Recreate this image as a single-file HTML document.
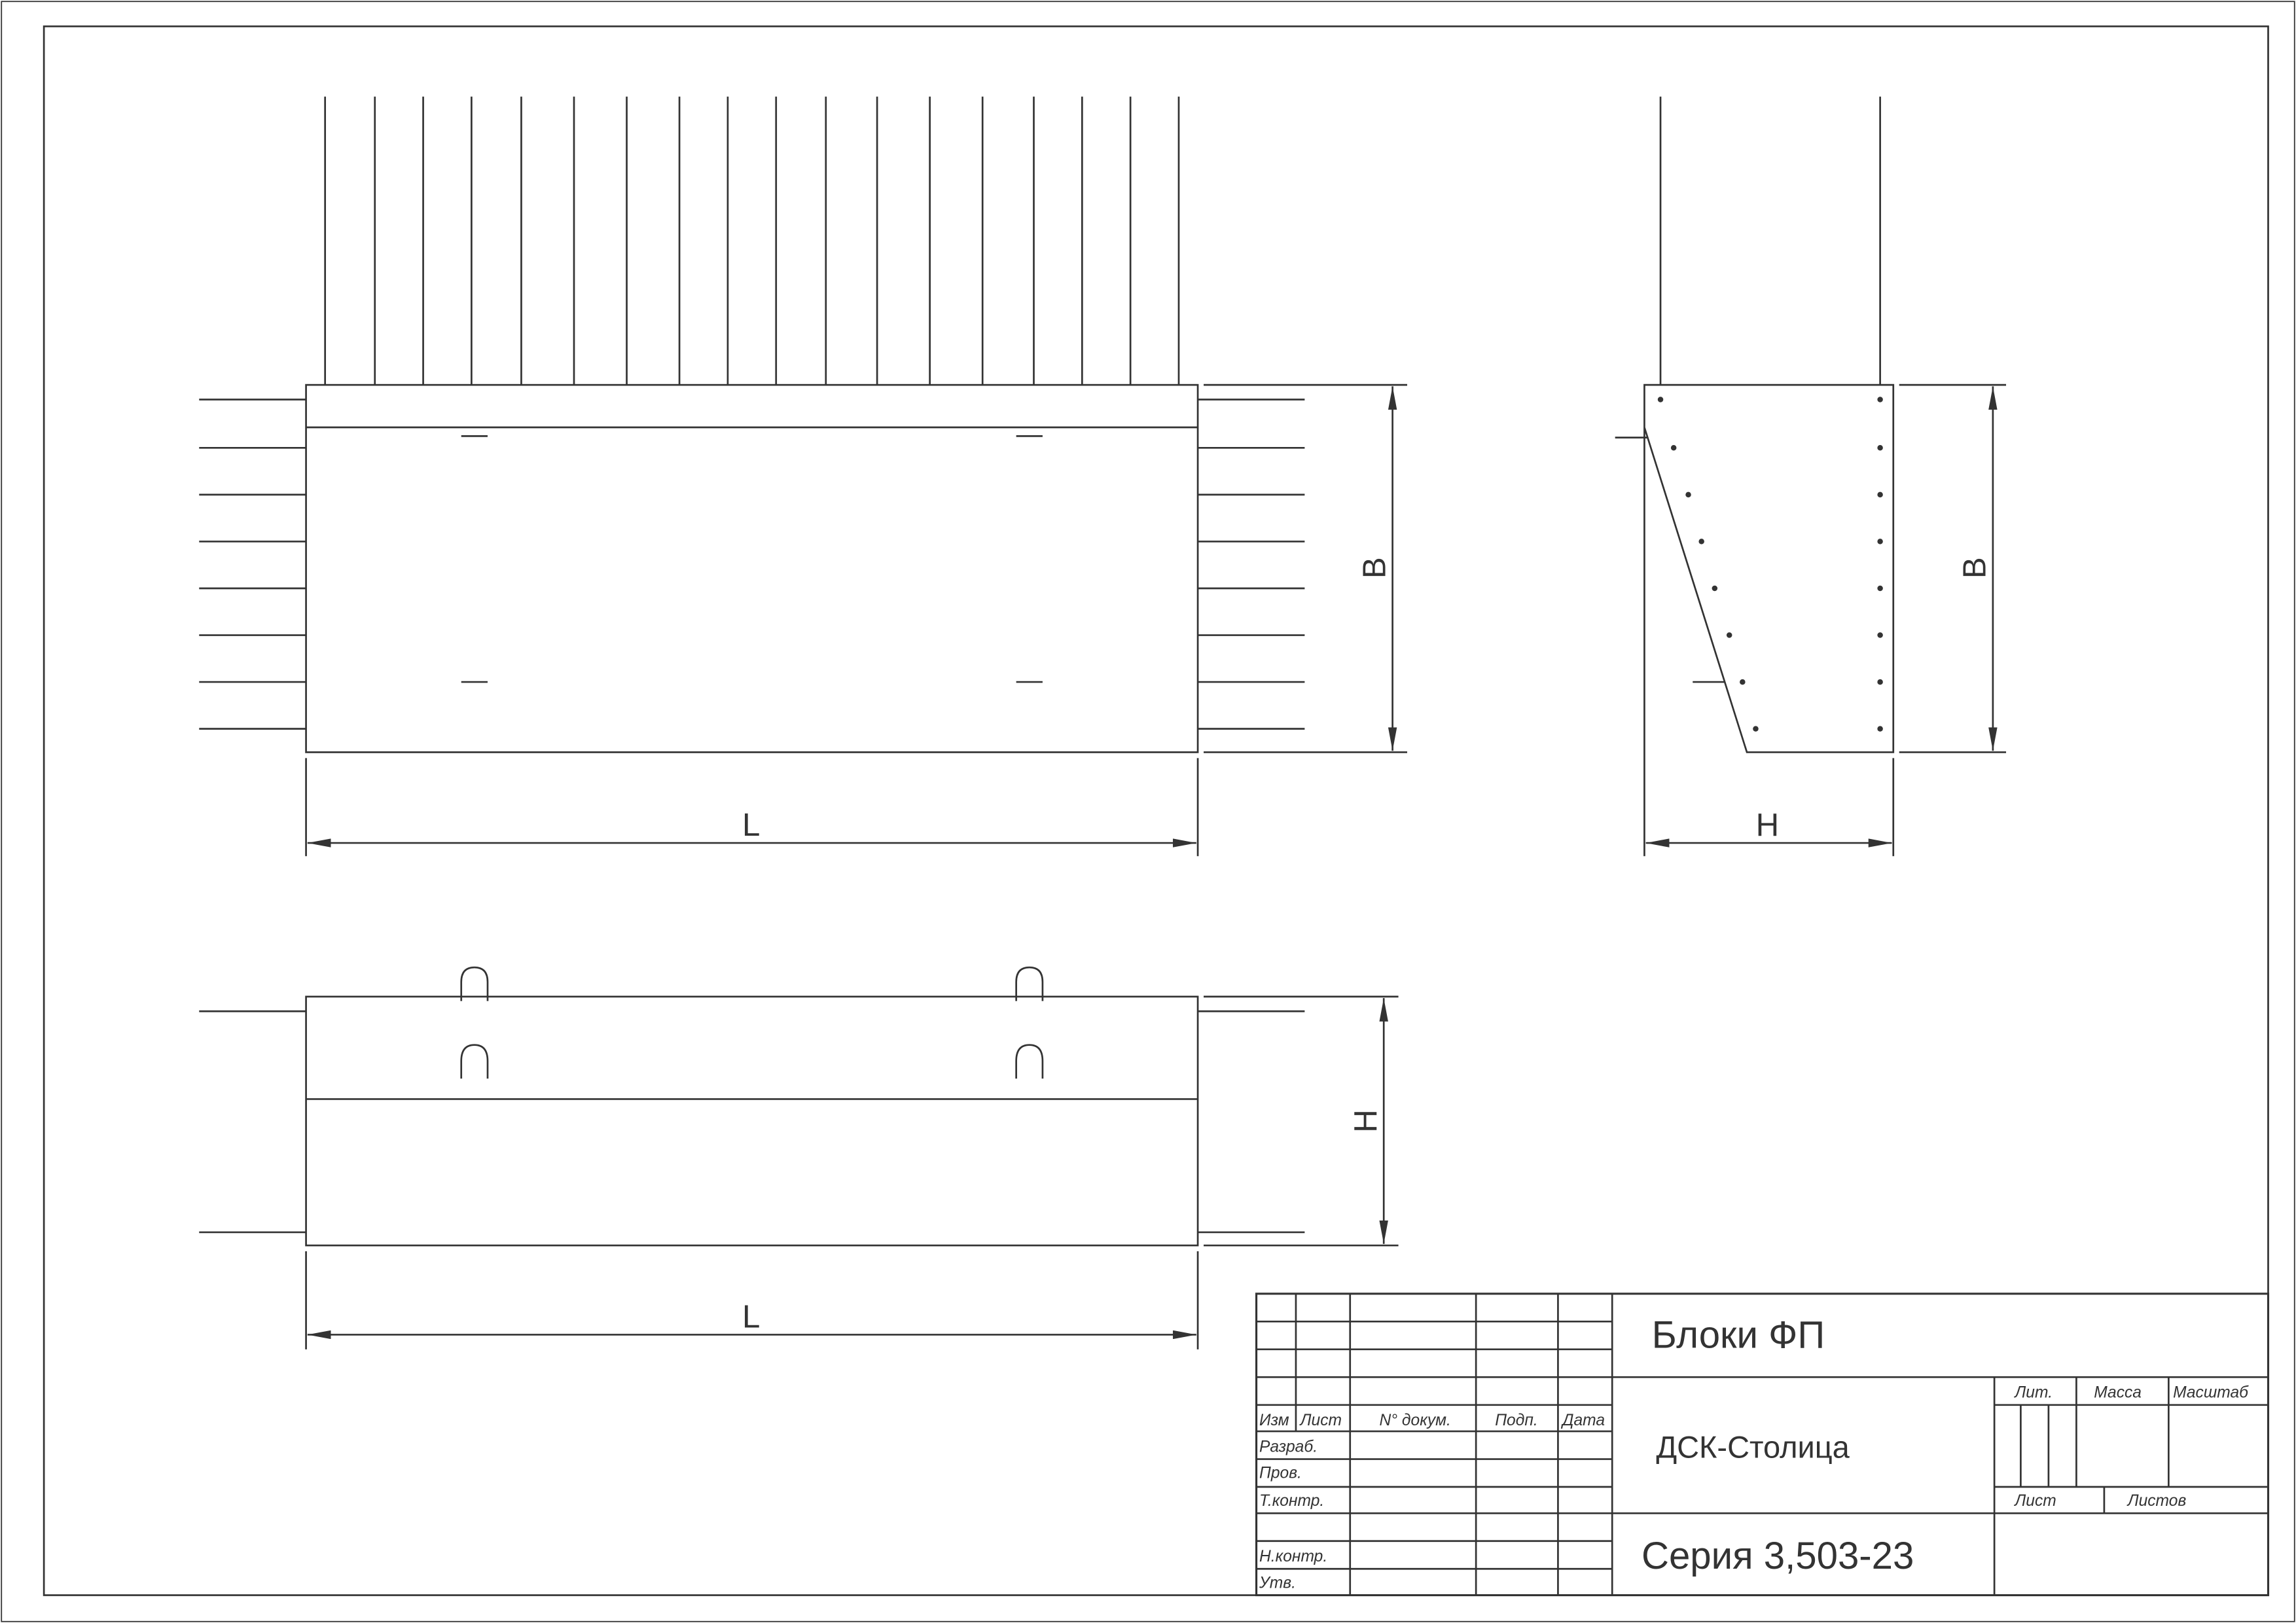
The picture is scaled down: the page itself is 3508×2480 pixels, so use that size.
<!DOCTYPE html>
<html><head><meta charset="utf-8"><style>
html,body{margin:0;padding:0;background:#fff;}
svg{display:block;}
text{font-family:"Liberation Sans",sans-serif;fill:#333;}
.s{font-style:italic;font-size:11px;}
</style></head><body>
<svg width="3508" height="2480" viewBox="0 0 1568 1109" preserveAspectRatio="none" xmlns="http://www.w3.org/2000/svg">
<defs>
<marker id="a" viewBox="0 0 16 6" refX="16" refY="3" markerWidth="16" markerHeight="6" markerUnits="userSpaceOnUse" orient="auto-start-reverse"><path d="M0,0 L16,3 L0,6 z" fill="#333"/></marker>
</defs>
<g stroke="#333" stroke-width="1.2" fill="none">
<rect x="1" y="1" width="1566" height="1107" stroke-width="0.8"/>
<rect x="30" y="18" width="1519" height="1072"/>

<rect x="209" y="263" width="609" height="251"/>
<line x1="209" y1="292" x2="818" y2="292"/>
<path d="M222,66V263 M256,66V263 M289,66V263 M322,66V263 M356,66V263 M392,66V263 M428,66V263 M464,66V263 M497,66V263 M530,66V263 M564,66V263 M599,66V263 M635,66V263 M671,66V263 M706,66V263 M739,66V263 M772,66V263 M805,66V263"/>
<path d="M136,273H209 M136,306H209 M136,338H209 M136,370H209 M136,402H209 M136,434H209 M136,466H209 M136,498H209"/>
<path d="M818,273H891 M818,306H891 M818,338H891 M818,370H891 M818,402H891 M818,434H891 M818,466H891 M818,498H891"/>
<path d="M315,298H333 M694,298H712 M315,466H333 M694,466H712"/>
<path d="M822,263H961 M822,514H961"/>
<line x1="951" y1="264" x2="951" y2="513" marker-start="url(#a)" marker-end="url(#a)"/>
<path d="M209,518V585 M818,518V585"/>
<line x1="210" y1="576" x2="817" y2="576" marker-start="url(#a)" marker-end="url(#a)"/>

<path d="M1123,585V263H1293V514H1193L1123,292"/>
<path d="M1134,66V263 M1284,66V263"/>
<path d="M1103,299H1125 M1156,466H1178"/>
<path d="M1297,263H1370 M1297,514H1370"/>
<line x1="1361" y1="264" x2="1361" y2="513" marker-start="url(#a)" marker-end="url(#a)"/>
<path d="M1293,518V585"/>
<line x1="1124" y1="576" x2="1292" y2="576" marker-start="url(#a)" marker-end="url(#a)"/>

<rect x="209" y="681" width="609" height="170"/>
<line x1="209" y1="751" x2="818" y2="751"/>
<path d="M136,691H209 M136,842H209 M818,691H891 M818,842H891"/>
<path d="M315,684V671Q315,661 324,661Q333,661 333,671V684 M694,684V671Q694,661 703,661Q712,661 712,671V684"/>
<path d="M315,737V725Q315,714 324,714Q333,714 333,725V737 M694,737V725Q694,714 703,714Q712,714 712,725V737"/>
<path d="M822,681H955 M822,851H955"/>
<line x1="945" y1="682" x2="945" y2="850" marker-start="url(#a)" marker-end="url(#a)"/>
<path d="M209,855V922 M818,855V922"/>
<line x1="210" y1="912" x2="817" y2="912" marker-start="url(#a)" marker-end="url(#a)"/>

<rect x="858" y="884" width="691" height="206" stroke-width="1.4"/>
<path d="M858,903H1101 M858,922H1101 M858,941H1549 M858,960H1101 M858,978H1101 M858,997H1101 M858,1016H1101 M858,1034H1549 M858,1053H1101 M858,1072H1101"/>
<path d="M885,884V978 M922,884V1090 M1008,884V1090 M1064,884V1090 M1101,884V1090"/>
<path d="M1362,941V1090 M1362,960H1549 M1362,1016H1549 M1418,941V1016 M1481,941V1016 M1380,960V1016 M1399,960V1016 M1437,1016V1034"/>
</g>
<g fill="#333">
<circle cx="1134" cy="273" r="1.9"/><circle cx="1143" cy="306" r="1.9"/><circle cx="1153" cy="338" r="1.9"/><circle cx="1162" cy="370" r="1.9"/><circle cx="1171" cy="402" r="1.9"/><circle cx="1181" cy="434" r="1.9"/><circle cx="1190" cy="466" r="1.9"/><circle cx="1199" cy="498" r="1.9"/>
<circle cx="1284" cy="273" r="1.9"/><circle cx="1284" cy="306" r="1.9"/><circle cx="1284" cy="338" r="1.9"/><circle cx="1284" cy="370" r="1.9"/><circle cx="1284" cy="402" r="1.9"/><circle cx="1284" cy="434" r="1.9"/><circle cx="1284" cy="466" r="1.9"/><circle cx="1284" cy="498" r="1.9"/>
</g>
<text x="513" y="571" font-size="22" text-anchor="middle">L</text>
<text x="513" y="907" font-size="22" text-anchor="middle">L</text>
<text x="1207" y="571" font-size="22" text-anchor="middle">H</text>
<text transform="translate(946,388) rotate(-90)" font-size="22" text-anchor="middle">B</text>
<text transform="translate(1356,388) rotate(-90)" font-size="22" text-anchor="middle">B</text>
<text transform="translate(940,766) rotate(-90)" font-size="22" text-anchor="middle">H</text>

<text x="1128" y="921" font-size="26">Блоки ФП</text>
<text x="1131" y="996" font-size="21">ДСК-Столица</text>
<text x="1121" y="1072" font-size="26">Серия 3,503-23</text>
<text class="s" x="860" y="974">Изм</text>
<text class="s" x="888" y="974">Лист</text>
<text class="s" x="942" y="974">N° докум.</text>
<text class="s" x="1021" y="974">Подп.</text>
<text class="s" x="1067" y="974">Дата</text>
<text class="s" x="860" y="992">Разраб.</text>
<text class="s" x="860" y="1010">Пров.</text>
<text class="s" x="860" y="1029">Т.контр.</text>
<text class="s" x="860" y="1067">Н.контр.</text>
<text class="s" x="860" y="1085">Утв.</text>
<text class="s" x="1376" y="955">Лит.</text>
<text class="s" x="1430" y="955">Масса</text>
<text class="s" x="1484" y="955">Масштаб</text>
<text class="s" x="1376" y="1029">Лист</text>
<text class="s" x="1453" y="1029">Листов</text>
</svg>
</body></html>
